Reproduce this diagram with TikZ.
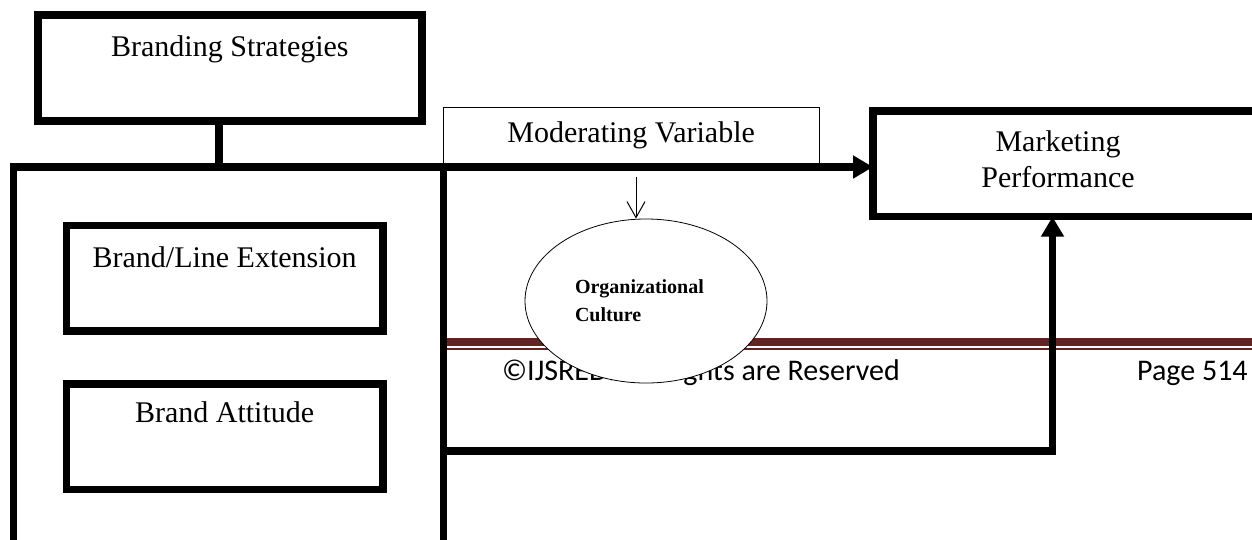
\documentclass[tikz,border=0pt]{standalone}
\usepackage{fontspec}
\setmainfont{Liberation Serif}
\newfontfamily\footfont{Carlito}
\usetikzlibrary{arrows.meta,shapes.geometric}
\definecolor{footred}{RGB}{98,36,35}
\begin{document}
\begin{tikzpicture}[x=1pt,y=-1pt,
  thickbox/.style={draw, line width=7.5pt, inner sep=0pt, outer sep=0pt, font=\fontsize{30}{36}\selectfont, anchor=base},
  thinbox/.style={draw, line width=1pt, inner sep=0pt, outer sep=0pt, font=\fontsize{30}{36}\selectfont, anchor=base},
  thickline/.style={line width=7.5pt},
  thickarrow/.style={line width=7.5pt, -{Triangle[length=20pt,width=22pt]}},
  thinarrow/.style={line width=1pt, -{Straight Barb[length=16pt,width=18pt]}},
  foottext/.style={font=\footfont\fontsize{30}{36}\selectfont, inner sep=0pt, anchor=base west},
  footline/.style={draw=footred}
]
\useasboundingbox (0,0) rectangle (1252,539);

% footer
\draw[footline, line width=7.4pt] (443,342) -- (1262,342);
\draw[footline, line width=2pt] (443,349) -- (1262,349);
\node[foottext] (copy) at (502,380) {©IJSRED: All Rights are Reserved};
\node[foottext] (page) at (1137,380) {Page 514};

% boxes
\node[thinbox, minimum width=375.7pt, text height=35.7pt, text depth=24.3pt] (mv) at (631.15,142.7) {Moderating Variable};
\node[thickbox, minimum width=384.2pt, text height=41.7pt, text depth=64.3pt] (bs) at (229.9,56.7) {Branding Strategies};
\node[thickbox, minimum width=429.6pt, minimum height=393pt, anchor=center] (ob) at (228.5,363.5) {};
\node[thickbox, minimum width=316.7pt, text height=41.8pt, text depth=63.3pt] (bl) at (224.65,267.5) {Brand/Line Extension};
\node[thickbox, minimum width=316.7pt, text height=39pt, text depth=66.5pt] (ba) at (224.65,422.8) {Brand Attitude};
\node[thickbox, minimum width=397pt, minimum height=105.7pt, anchor=center] (mp) at (1071.5,163.85) {};
\node[font=\fontsize{30}{36}\selectfont, align=center, inner sep=0pt] (mpt) at (1058,158.8) {Marketing\\Performance};

\node[draw, ellipse, fill=white, line width=0.8pt, minimum width=242pt, minimum height=164pt, inner sep=0pt, font=\bfseries\fontsize{20}{28}\selectfont, text width=142pt, align=left] (oc) at (646,301) {Organizational\\Culture};

% connectors
\draw[thickline] ([xshift=-11.1pt]bs.south) -- ([xshift=-11.1pt]bs.south |- ob.north);
\draw[thickarrow] (ob.north east) -- (ob.north east -| mp.west);
\coordinate (j) at (1052.5,451);
\draw[thickarrow] (ob.east |- j) -- (j) -- (j |- mp.south);
\coordinate (ms) at (636,177);
\draw[thinarrow] (ms) -- (ms |- oc.north);
\end{tikzpicture}
\end{document}
